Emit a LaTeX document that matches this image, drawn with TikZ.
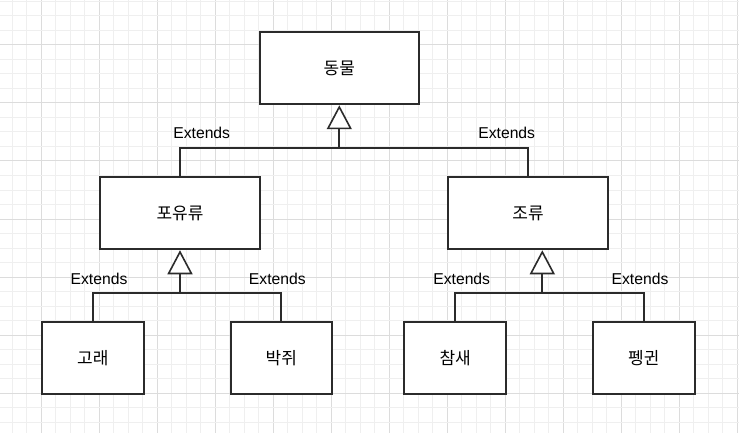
\documentclass[tikz,border=0pt]{standalone}
\usepackage{fontspec}
\setmainfont{Liberation Sans}
\newfontfamily\kor{Noto Sans CJK KR}
\usetikzlibrary{arrows.meta}
\definecolor{gridminor}{HTML}{EFEFEF}
\definecolor{gridmajor}{HTML}{DCDCDC}
\definecolor{edge}{HTML}{2B2B2B}
\tikzset{
  cls/.style={draw=edge, line width=2pt, fill=white, rectangle, inner sep=0pt,
    minimum height=72.5pt, font=\kor\fontsize{17}{20}\selectfont},
  big/.style={cls, minimum width=159.5pt},
  small/.style={cls, minimum width=101.5pt},
  link/.style={draw=edge, line width=2pt},
  inherit/.style={link, -{Triangle[open, length=24pt, width=25pt, line width=1.6pt, fill=white]}},
  lbl/.style={inner sep=0pt, font=\fontsize{15.7}{18}\selectfont}
}
\begin{document}
\begin{tikzpicture}[x=1pt, y=-1pt]
\useasboundingbox (0,0) rectangle (739,433);
\fill[white] (0,0) rectangle (739,433);
% grid
\foreach \k in {0,...,51} {
  \pgfmathsetmacro{\gx}{-2.2+14.5*\k}
  \pgfmathtruncatemacro{\km}{mod(\k,4)}
  \ifnum\km=3 \def\gc{gridmajor}\else\def\gc{gridminor}\fi
  \draw[\gc, line width=1pt] (\gx,0) -- (\gx,433);
}
\foreach \k in {0,...,29} {
  \pgfmathsetmacro{\gy}{1.5+14.5*\k}
  \pgfmathtruncatemacro{\km}{mod(\k,4)}
  \ifnum\km=3 \def\gc{gridmajor}\else\def\gc{gridminor}\fi
  \draw[\gc, line width=1pt] (0,\gy) -- (739,\gy);
}
% classes
\node[big] (animal) at (339.3,68) {동물};
\node[big] (mammal) at (180,213) {포유류};
\node[big] (bird) at (528,213) {조류};
\node[small] (whale) at (92.8,358) {고래};
\node[small] (bat) at (281.3,358) {박쥐};
\node[small] (sparrow) at (455.2,358) {참새};
\node[small] (penguin) at (643.8,358) {펭귄};
% junctions
\coordinate (j0) at (339.3,147.7);
\coordinate (j1) at (180,292.5);
\coordinate (j2) at (542.3,292.5);
% connectors
\draw[link] (mammal.north) |- (j0);
\draw[link] (bird.north) |- (j0);
\draw[inherit] (j0) -- (animal.south);
\draw[link] (whale.north) |- (j1);
\draw[link] (bat.north) |- (j1);
\draw[inherit] (j1) -- (mammal.south);
\draw[link] (sparrow.north) |- (j2);
\draw[link] (penguin.north) |- (j2);
\draw[inherit] (j2) -- (j2 |- bird.south);
% labels
\node[lbl] (e1) at (201.7,133.3) {Extends};
\node[lbl] (e2) at (506.7,133.3) {Extends};
\node[lbl] (e3) at (99,278.7) {Extends};
\node[lbl] (e4) at (277.3,278.7) {Extends};
\node[lbl] (e5) at (461.7,278.5) {Extends};
\node[lbl] (e6) at (640,278.5) {Extends};
\end{tikzpicture}
\end{document}
